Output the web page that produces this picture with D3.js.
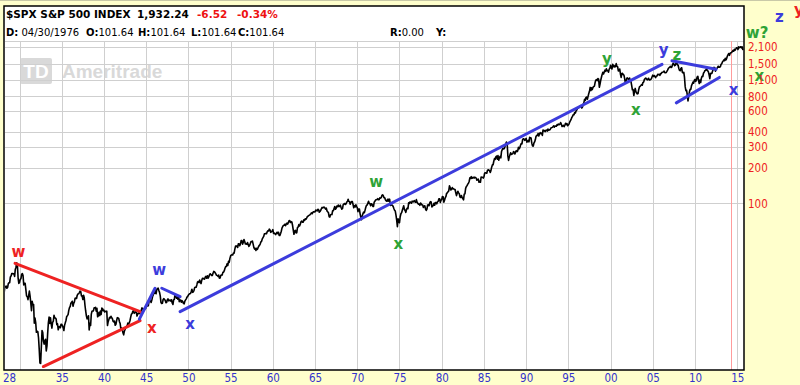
<!DOCTYPE html>
<html>
<head>
<meta charset="utf-8">
<script src="https://cdn.jsdelivr.net/npm/d3@7/dist/d3.min.js"></script>
<style>
  body { margin: 0; background: #ffffcc; }
  svg { display: block; }
  text { font-family: "DejaVu Sans", sans-serif; }
</style>
</head>
<body>
<svg id="chart" width="800" height="385"></svg>
<script>
// header strings
var symbolName = "$SPX S&P 500 INDEX";
var lastPrice = "1,932.24";
var netChange = "-6.52";
var pctChange = "-0.34%";
var cursorDate = "04/30/1976";
var cursorOHLC = ["101.64", "101.64", "101.64", "101.64"];
var cursorR = "0.00";

// monthly closes, one row per year starting 1928
var firstYear = 1928;
var monthlyClose = [
  [17.57, 17.26, 19.28, 19.75, 20.00, 19.14, 19.43, 20.88, 21.30, 21.31, 23.86, 24.35],
  [25.48, 25.55, 25.36, 25.36, 24.12, 27.62, 28.87, 31.47, 29.80, 23.27, 21.07, 21.45],
  [22.79, 23.07, 25.14, 25.46, 24.49, 20.46, 21.06, 21.05, 18.67, 16.46, 16.25, 15.34],
  [16.60, 18.11, 16.44, 14.40, 12.38, 14.83, 13.90, 13.95, 9.71, 10.73, 9.83, 8.12],
  [8.30, 8.23, 7.31, 5.83, 4.47, 4.43, 6.10, 8.39, 8.08, 6.84, 6.45, 6.89],
  [7.09, 5.66, 6.23, 7.97, 9.78, 10.91, 9.67, 10.78, 9.55, 8.82, 9.83, 10.10],
  [11.32, 10.74, 10.74, 10.53, 9.42, 9.59, 8.53, 9.03, 9.08, 8.88, 9.51, 9.50],
  [9.21, 8.90, 8.41, 9.29, 9.76, 10.22, 11.03, 11.23, 11.47, 12.45, 13.13, 13.43],
  [14.29, 14.55, 14.86, 13.50, 14.28, 14.69, 15.78, 15.84, 15.68, 16.70, 17.13, 17.18],
  [17.59, 18.11, 17.96, 16.51, 16.50, 15.37, 16.70, 15.90, 13.76, 12.30, 11.20, 10.55],
  [10.64, 11.20, 8.50, 9.70, 9.27, 11.56, 12.24, 12.31, 12.31, 13.07, 13.07, 13.21],
  [12.27, 12.94, 10.98, 11.22, 12.00, 11.25, 12.27, 11.50, 13.02, 12.90, 12.37, 12.49],
  [12.05, 12.21, 12.15, 12.27, 9.27, 9.98, 10.44, 10.86, 10.75, 11.11, 10.79, 10.58],
  [10.07, 9.96, 10.10, 9.31, 9.48, 10.21, 10.80, 10.72, 10.63, 9.99, 9.64, 8.69],
  [8.82, 8.61, 8.04, 7.73, 8.31, 8.59, 8.95, 9.11, 9.22, 9.73, 9.57, 9.77],
  [10.22, 10.91, 11.58, 11.69, 12.27, 12.34, 11.75, 11.95, 12.11, 11.97, 11.14, 11.67],
  [11.83, 11.66, 12.19, 11.85, 12.49, 13.07, 12.77, 12.84, 12.81, 12.86, 12.84, 13.28],
  [13.49, 14.30, 13.62, 14.74, 14.94, 14.97, 14.52, 15.23, 16.21, 16.77, 17.40, 17.36],
  [18.59, 17.21, 18.49, 19.09, 19.17, 18.33, 17.67, 16.48, 14.55, 14.22, 14.28, 15.30],
  [15.66, 15.41, 15.17, 14.47, 14.52, 15.23, 15.58, 14.98, 15.07, 15.24, 14.92, 15.30],
  [14.38, 13.95, 15.26, 15.43, 16.96, 16.74, 15.78, 15.97, 15.49, 16.54, 14.75, 15.20],
  [15.22, 14.58, 15.04, 14.76, 14.28, 14.15, 14.93, 15.28, 15.58, 16.13, 16.34, 16.76],
  [17.05, 17.22, 17.29, 17.96, 18.78, 17.69, 17.84, 18.42, 19.45, 19.53, 19.51, 20.43],
  [21.66, 21.80, 21.40, 22.43, 21.52, 20.96, 22.40, 23.28, 23.26, 22.94, 22.88, 23.77],
  [24.14, 23.26, 24.37, 23.32, 23.86, 24.96, 25.40, 25.03, 24.54, 24.52, 25.66, 26.57],
  [26.38, 25.90, 25.29, 24.62, 24.54, 24.14, 24.75, 23.32, 23.35, 24.54, 24.76, 24.81],
  [26.08, 26.15, 26.94, 28.26, 29.19, 29.21, 30.88, 29.83, 32.31, 31.68, 34.24, 35.98],
  [36.63, 36.76, 36.58, 37.96, 37.91, 41.03, 43.52, 43.18, 43.67, 42.34, 45.51, 45.48],
  [43.82, 45.34, 48.48, 48.38, 45.20, 46.97, 49.39, 47.51, 45.35, 45.58, 45.08, 46.67],
  [44.72, 43.26, 44.11, 45.74, 47.43, 47.37, 47.91, 45.22, 42.42, 41.06, 41.72, 39.99],
  [41.70, 40.84, 42.10, 43.44, 44.09, 45.24, 47.19, 47.75, 50.06, 51.33, 52.48, 55.21],
  [55.42, 55.41, 55.44, 57.59, 58.68, 58.47, 60.51, 59.60, 56.88, 57.52, 58.28, 59.89],
  [55.61, 56.12, 55.34, 54.37, 55.83, 56.92, 55.51, 56.96, 53.52, 53.39, 55.54, 58.11],
  [61.78, 63.44, 65.06, 65.31, 66.56, 64.64, 66.76, 68.07, 66.73, 68.62, 71.32, 71.55],
  [68.84, 69.96, 69.55, 65.24, 59.63, 54.75, 58.23, 59.12, 56.27, 56.52, 62.26, 63.10],
  [66.20, 64.29, 66.57, 69.80, 70.80, 69.37, 69.13, 72.50, 71.70, 74.01, 73.23, 75.02],
  [77.04, 77.80, 78.98, 79.46, 80.37, 81.69, 83.18, 81.83, 84.18, 84.86, 84.42, 84.75],
  [87.56, 87.43, 86.16, 89.11, 88.42, 84.12, 85.25, 87.17, 89.96, 92.42, 91.61, 92.43],
  [92.88, 91.22, 89.23, 91.06, 86.13, 84.74, 83.60, 77.10, 76.56, 80.20, 80.45, 80.33],
  [86.61, 86.78, 90.20, 94.01, 89.08, 90.64, 94.75, 93.64, 96.71, 93.90, 94.00, 96.47],
  [92.24, 89.36, 90.20, 97.59, 98.68, 99.58, 97.74, 98.86, 102.67, 103.41, 108.37, 103.86],
  [103.01, 98.13, 101.51, 103.69, 103.46, 97.71, 91.83, 95.51, 93.12, 97.24, 93.81, 92.06],
  [85.02, 89.50, 89.63, 81.52, 76.55, 72.72, 78.05, 81.52, 84.21, 83.25, 87.20, 92.15],
  [95.88, 96.75, 100.31, 103.95, 99.63, 99.70, 95.58, 99.03, 98.34, 94.23, 93.99, 102.09],
  [103.94, 106.57, 107.20, 107.67, 109.53, 107.14, 107.39, 111.09, 110.55, 111.58, 116.67, 118.05],
  [116.03, 111.68, 111.52, 106.97, 104.95, 104.26, 108.22, 104.25, 108.43, 108.29, 95.96, 97.55],
  [96.57, 96.22, 93.98, 90.31, 87.28, 86.00, 79.31, 72.15, 63.54, 73.90, 69.97, 68.56],
  [76.98, 81.59, 83.36, 87.30, 91.15, 95.19, 88.75, 86.88, 83.87, 89.04, 91.24, 90.19],
  [100.86, 99.71, 102.77, 101.64, 100.18, 104.28, 103.44, 102.91, 105.24, 102.90, 102.10, 107.46],
  [102.03, 99.82, 98.42, 98.44, 96.12, 100.48, 98.85, 96.77, 96.53, 92.34, 94.83, 95.10],
  [89.25, 87.04, 89.21, 96.83, 97.24, 95.53, 100.68, 103.29, 102.54, 93.15, 94.70, 96.11],
  [99.93, 96.28, 101.59, 101.76, 99.08, 102.91, 103.81, 109.32, 109.32, 101.82, 106.16, 107.94],
  [114.16, 113.66, 102.09, 106.29, 111.24, 114.24, 121.67, 122.38, 125.46, 127.47, 140.52, 135.76],
  [129.55, 131.27, 136.00, 132.81, 132.59, 131.21, 130.92, 122.79, 116.18, 121.89, 126.35, 122.55],
  [120.40, 113.11, 111.96, 116.44, 111.88, 109.61, 107.09, 119.51, 120.42, 133.71, 138.54, 140.64],
  [145.30, 148.06, 152.96, 164.42, 162.39, 168.11, 162.56, 164.40, 166.07, 163.55, 166.40, 164.93],
  [163.41, 157.06, 159.18, 160.05, 150.55, 153.18, 150.66, 166.68, 166.10, 166.09, 163.58, 167.24],
  [179.63, 181.18, 180.66, 179.83, 189.55, 191.85, 190.92, 188.63, 182.08, 189.82, 202.17, 211.28],
  [211.78, 226.92, 238.90, 235.52, 247.35, 250.84, 236.12, 252.93, 231.32, 243.98, 249.22, 242.17],
  [274.08, 284.20, 291.70, 288.36, 290.10, 304.00, 318.66, 329.80, 321.83, 251.79, 230.30, 247.08],
  [257.07, 267.82, 258.89, 261.33, 262.16, 273.50, 272.02, 261.52, 271.91, 278.97, 273.70, 277.72],
  [297.47, 288.86, 294.87, 309.64, 320.52, 317.98, 346.08, 351.45, 349.15, 340.36, 345.99, 353.40],
  [329.08, 331.89, 339.94, 330.80, 361.23, 358.02, 356.15, 322.56, 306.05, 304.00, 322.22, 330.22],
  [343.93, 367.07, 375.22, 375.34, 389.83, 371.16, 387.81, 395.43, 387.86, 392.46, 375.22, 417.09],
  [408.79, 412.70, 403.69, 414.95, 415.35, 408.14, 424.21, 414.03, 417.80, 418.68, 431.35, 435.71],
  [438.78, 443.38, 451.67, 440.19, 450.19, 450.53, 448.13, 463.56, 458.93, 467.83, 461.79, 466.45],
  [481.61, 467.14, 445.77, 450.91, 456.50, 444.27, 458.26, 475.49, 462.69, 472.35, 453.69, 459.27],
  [470.42, 487.39, 500.71, 514.71, 533.40, 544.75, 562.06, 561.88, 584.41, 581.50, 605.37, 615.93],
  [636.02, 640.43, 645.50, 654.17, 669.12, 670.63, 639.95, 651.99, 687.33, 705.27, 757.02, 740.74],
  [786.16, 790.82, 757.12, 801.34, 848.28, 885.14, 954.29, 899.47, 947.28, 914.62, 955.40, 970.43],
  [980.28, 1049.34, 1101.75, 1111.75, 1090.82, 1133.84, 1120.67, 957.28, 1017.01, 1098.67, 1163.63, 1229.23],
  [1279.64, 1238.33, 1286.37, 1335.18, 1301.84, 1372.71, 1328.72, 1320.41, 1282.71, 1362.93, 1388.91, 1469.25],
  [1394.46, 1366.42, 1498.58, 1452.43, 1420.60, 1454.60, 1430.83, 1517.68, 1436.51, 1429.40, 1314.95, 1320.28],
  [1366.01, 1239.94, 1160.33, 1249.46, 1255.82, 1224.42, 1211.23, 1133.58, 1040.94, 1059.78, 1139.45, 1148.08],
  [1130.20, 1106.73, 1147.39, 1076.92, 1067.14, 989.82, 911.62, 916.07, 815.28, 885.76, 936.31, 879.82],
  [855.70, 841.15, 848.18, 916.92, 963.59, 974.50, 990.31, 1008.01, 995.97, 1050.71, 1058.20, 1111.92],
  [1131.13, 1144.94, 1126.21, 1107.30, 1120.68, 1140.84, 1101.72, 1104.24, 1114.58, 1130.20, 1173.82, 1211.92],
  [1181.27, 1203.60, 1180.59, 1156.85, 1191.50, 1191.33, 1234.18, 1220.33, 1228.81, 1207.01, 1249.48, 1248.29],
  [1280.08, 1280.66, 1294.87, 1310.61, 1270.09, 1270.20, 1276.66, 1303.82, 1335.85, 1377.94, 1400.63, 1418.30],
  [1438.24, 1406.82, 1420.86, 1482.37, 1530.62, 1503.35, 1455.27, 1473.99, 1526.75, 1549.38, 1481.14, 1468.36],
  [1378.55, 1330.63, 1322.70, 1385.59, 1400.38, 1280.00, 1267.38, 1282.83, 1166.36, 968.75, 896.24, 903.25],
  [825.88, 735.09, 797.87, 872.81, 919.14, 919.32, 987.48, 1020.62, 1057.08, 1036.19, 1095.63, 1115.10],
  [1073.87, 1104.49, 1169.43, 1186.69, 1089.41, 1030.71, 1101.60, 1049.33, 1141.20, 1183.26, 1180.55, 1257.64],
  [1286.12, 1327.22, 1325.83, 1363.61, 1345.20, 1320.64, 1292.28, 1218.89, 1131.42, 1253.30, 1246.96, 1257.60],
  [1312.41, 1365.68, 1408.47, 1397.91, 1310.33, 1362.16, 1379.32, 1406.58, 1440.67, 1412.16, 1416.18, 1426.19],
  [1498.11, 1514.68, 1569.19, 1597.57, 1630.74, 1606.28, 1685.73, 1632.97, 1681.55, 1756.54, 1805.81, 1848.36],
  [1782.59, 1859.45, 1872.34, 1883.95, 1923.57, 1960.23, 1930.67, 2003.37, 1972.29, 2018.05, 2067.56, 2058.90],
  [1994.99, 2104.50, 2067.89, 2085.51, 2107.39, 2063.11, 2103.84, 1972.18]
];

// axes
var gridYears = [1930, 1935, 1940, 1945, 1950, 1955, 1960, 1965, 1970, 1975, 1980, 1985, 1990, 1995, 2000, 2005, 2010, 2015];
var xTickYears = [1928, 1935, 1940, 1945, 1950, 1955, 1960, 1965, 1970, 1975, 1980, 1985, 1990, 1995, 2000, 2005, 2010, 2015];
var yTickValues = [100, 200, 300, 400, 600, 800, 1100, 1500, 2100];
var markerYear = 2014.3;

// wave lines as [year, value] pairs
var redLines = [
  [[1929.47, 31.1], [1944.28, 12.15]],
  [[1932.82, 4.17], [1944.28, 10.2]]
];
var blueLines = [
  [[1944.19, 10.5], [1946.05, 19.15]],
  [[1946.85, 19.15], [1949.02, 16.26]],
  [[1949.02, 12.15], [2006.09, 1493]],
  [[2007.27, 1601], [2012.49, 1362]],
  [[2007.78, 707], [2012.88, 1159]]
];

// wave labels [text, year, value]
var redLabels = [["w", 1929.86, 38.3], ["x", 1945.66, 8.8], ["y", 2022.3, 4293]];
var blueLabels = [["w", 1946.53, 26.95], ["x", 1950.2, 9.5], ["y", 2006.28, 1972], ["x", 2014.57, 906], ["z", 2019.99, 3724]];
var greenLabels = [["w", 1972.24, 151], ["x", 1974.85, 45.3], ["y", 1999.57, 1646], ["x", 2003.0, 605],
                   ["z", 2007.86, 1789], ["w?", 2017.35, 2728], ["x", 2017.62, 1173]];

var svg = d3.select("#chart"),
    plotL = 5, plotR = 744, plotT = 41, plotB = 370;

var x = d3.scaleLinear().domain([1928.28, 2015.8]).range([plotL, plotR]);
var y = d3.scaleLog().domain([3.9, 2356]).range([plotB, plotT]);

// background
svg.append("rect").attr("width", 800).attr("height", 385).attr("fill", "#ffffcc");
svg.append("line").attr("x1", 0).attr("x2", 800).attr("y1", 0.5).attr("y2", 0.5)
   .attr("stroke", "#c9c9a8");
svg.append("rect").attr("x", 4).attr("y", 6).attr("width", 740).attr("height", 364)
   .attr("fill", "#fff");

// watermark
var wm = svg.append("g");
wm.append("rect").attr("x", 20).attr("y", 58).attr("width", 32).attr("height", 26)
  .attr("rx", 2).attr("fill", "#d9d9d9");
wm.append("text").attr("x", 36).attr("y", 78).attr("text-anchor", "middle")
  .attr("fill", "#fff").style("font-family", "Liberation Sans, sans-serif")
  .style("font-weight", "bold").style("font-size", "19px").text("TD");
wm.append("text").attr("x", 62).attr("y", 78).attr("fill", "#d9d9d9")
  .style("font-family", "Liberation Sans, sans-serif")
  .style("font-weight", "bold").style("font-size", "19px").text("Ameritrade");

// grid
var grid = svg.append("g").attr("stroke", "#cfcfcf").attr("stroke-width", 1);
grid.selectAll(".vg").data(gridYears).enter().append("line")
    .attr("x1", function (d) { return Math.round(x(d)) + 0.5; })
    .attr("x2", function (d) { return Math.round(x(d)) + 0.5; })
    .attr("y1", plotT).attr("y2", plotB);
grid.selectAll(".hg").data(yTickValues).enter().append("line")
    .attr("x1", plotL).attr("x2", plotR)
    .attr("y1", function (d) { return Math.round(y(d)) + 0.5; })
    .attr("y2", function (d) { return Math.round(y(d)) + 0.5; });
grid.append("line").attr("x1", plotL).attr("x2", plotR).attr("y1", plotT + 0.5).attr("y2", plotT + 0.5);

svg.append("line")
   .attr("x1", Math.round(x(markerYear)) + 0.5).attr("x2", Math.round(x(markerYear)) + 0.5)
   .attr("y1", plotT).attr("y2", plotB)
   .attr("stroke", "#ff9c9c").attr("stroke-width", 1);

// price line
var points = [];
monthlyClose.forEach(function (row, i) {
  row.forEach(function (v, m) {
    points.push([firstYear + i + (m + 1) / 12, v]);
  });
});

svg.append("defs").append("clipPath").attr("id", "clip")
   .append("rect").attr("x", plotL).attr("y", plotT).attr("width", plotR - plotL).attr("height", plotB - plotT);

var line = d3.line()
    .x(function (d) { return x(d[0]); })
    .y(function (d) { return y(d[1]); });

svg.append("g").attr("clip-path", "url(#clip)")
   .append("path").datum(points)
   .attr("d", line)
   .attr("fill", "none")
   .attr("stroke", "#000")
   .attr("stroke-width", 1.6)
   .attr("stroke-linejoin", "round");

// frame
svg.append("rect").attr("x", 4).attr("y", 6).attr("width", 740).attr("height", 364)
   .attr("fill", "none").attr("stroke", "#000").attr("stroke-width", 1.5);

// header
var h1 = svg.append("text").attr("x", 6).attr("y", 18)
   .style("font-size", "10.5px").style("font-weight", "bold");
h1.append("tspan").text(symbolName);
h1.append("tspan").attr("x", 137).text(lastPrice);
h1.append("tspan").attr("x", 197).attr("fill", "#ee1111").text(netChange);
h1.append("tspan").attr("x", 237).attr("fill", "#ee1111").text(pctChange);

var h2 = svg.append("text").attr("x", 6).attr("y", 36).style("font-size", "10px");
var seg = [["D:", 6, cursorDate], ["O:", 86, cursorOHLC[0]], ["H:", 138, cursorOHLC[1]],
           ["L:", 191, cursorOHLC[2]], ["C:", 238, cursorOHLC[3]], ["R:", 390, cursorR], ["Y:", 436, ""]];
seg.forEach(function (s) {
  h2.append("tspan").attr("x", s[1]).style("font-weight", "bold").text(s[0]);
  h2.append("tspan").text((s[0] === "D:" ? " " : "") + s[2]);
});

// wave lines
function drawLines(data, color) {
  svg.append("g").selectAll("line").data(data).enter().append("line")
     .attr("x1", function (d) { return x(d[0][0]); })
     .attr("y1", function (d) { return y(d[0][1]); })
     .attr("x2", function (d) { return x(d[1][0]); })
     .attr("y2", function (d) { return y(d[1][1]); })
     .attr("stroke", color).attr("stroke-width", 3).attr("stroke-linecap", "round");
}
drawLines(redLines, "#ee2222");
drawLines(blueLines, "#3c3cdc");

function drawLabels(data, color) {
  svg.append("g").selectAll("text").data(data).enter().append("text")
     .attr("x", function (d) { return x(d[1]); })
     .attr("y", function (d) { return y(d[2]); })
     .attr("dy", "0.3em")
     .attr("text-anchor", "middle")
     .attr("fill", color)
     .style("font-weight", "bold").style("font-size", "15px")
     .text(function (d) { return d[0]; });
}
drawLabels(redLabels, "#ee2222");
drawLabels(blueLabels, "#3c3cdc");
drawLabels(greenLabels, "#2ea336");

// axes
var axisFont = "\"DejaVu Sans Condensed\", \"DejaVu Sans\", sans-serif";
var xAxis = svg.append("g").attr("transform", "translate(0," + plotB + ")")
   .call(d3.axisBottom(x).tickValues(xTickYears).tickSize(0).tickPadding(4)
         .tickFormat(function (d) { return d3.format("02d")(d % 100); }));
xAxis.select(".domain").remove();
xAxis.selectAll("text").attr("fill", "#3333cc").style("font-size", "11.5px")
     .style("font-family", axisFont);
xAxis.selectAll(".tick").filter(function (d) { return d === xTickYears[0]; })
     .attr("transform", "translate(" + (plotL - 2) + ",0)")
     .select("text").attr("text-anchor", "start");

var yAxis = svg.append("g").attr("transform", "translate(" + plotR + ",0)")
   .call(d3.axisRight(y).tickValues(yTickValues).tickSize(0).tickPadding(4)
         .tickFormat(d3.format(",")));
yAxis.select(".domain").remove();
yAxis.selectAll("text").attr("fill", "#ee2222").style("font-size", "11.5px")
     .style("font-family", axisFont);
</script>
</body>
</html>
